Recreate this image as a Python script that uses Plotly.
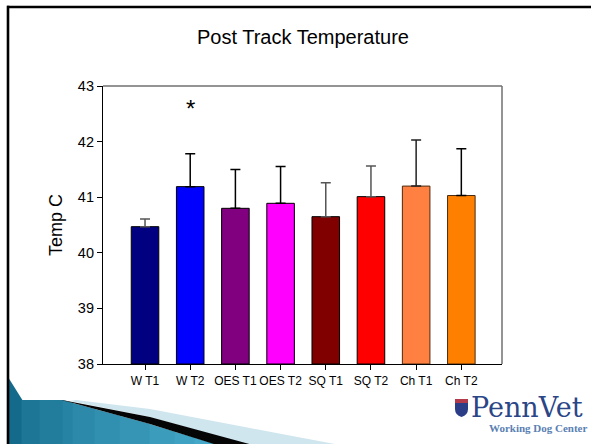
import plotly.graph_objects as go

# ---------------- data ----------------
categories = ["W T1", "W T2", "OES T1", "OES T2", "SQ T1", "SQ T2", "Ch T1", "Ch T2"]
means = [40.47, 41.19, 40.80, 40.89, 40.65, 41.01, 41.20, 41.03]
errors = [0.14, 0.59, 0.70, 0.66, 0.61, 0.55, 0.83, 0.84]
bar_colors = ["#000080", "#0000FF", "#800080", "#FF00FF", "#800000", "#FF0000", "#FF8040", "#FF8000"]
edge_colors = ["#000000", "#000000", "#000000", "#000000", "#000000", "#000000", "#4a2a10", "#4a2a10"]
err_colors = ["#555555", "#000000", "#000000", "#000000", "#555555", "#555555", "#222222", "#000000"]
y_ticks = [38, 39, 40, 41, 42, 43]
title_text = "Post Track Temperature"
y_title = "Temp C"
sig_label = "*"
sig_category = "W T2"
sig_y = 42.6

# ---------------- geometry ----------------
FW, FH = 591, 444
L, R, T, B = 103, 89, 86, 80
PW, PH = FW - L - R, FH - T - B


def px(x):
    return (x - L) / PW


def py(y):
    return (T + PH - y) / PH


FONT = "Liberation Sans, Arial, sans-serif"

fig = go.Figure()
for cat, m, e, c, ec, erc in zip(categories, means, errors, bar_colors, edge_colors, err_colors):
    fig.add_trace(go.Bar(
        x=[cat], y=[m - 38], base=38, width=0.61,
        marker=dict(color=c, line=dict(color=ec, width=1)),
        error_y=dict(type="data", array=[e], arrayminus=[0], symmetric=False,
                     color=erc, thickness=1.5, width=5),
        showlegend=False, hoverinfo="x+y",
    ))

shapes = []

# ---- slide decoration: teal swoosh bottom-left ----
def top_edge(x):
    # upper boundary of visible teal area (pixels)
    if x < 22:
        return 378 + (x - 9) * (2 / 13)
    pts = [(22, 400), (63, 400), (73, 403), (150, 424), (215, 444)]
    for (x0, y0), (x1, y1) in zip(pts[:-1], pts[1:]):
        if x0 <= x <= x1:
            return y0 + (y1 - y0) * (x - x0) / (x1 - x0)
    return 444


def lerp_col(a, b, t):
    ca = [int(a[i:i + 2], 16) for i in (1, 3, 5)]
    cb = [int(b[i:i + 2], 16) for i in (1, 3, 5)]
    return "#%02x%02x%02x" % tuple(int(round(ca[k] + (cb[k] - ca[k]) * t)) for k in range(3))


xs = [9, 22, 22.01, 40, 63, 73, 95, 120, 150, 175, 195, 215]
n = len(xs) - 1
for i in range(n):
    x0, x1 = xs[i], xs[i + 1]
    y0, y1 = top_edge(x0), top_edge(x1)
    col = lerp_col("#136a8a", "#45a8c8", i / (n - 1))
    path = "M {} {} L {} {} L {} {} L {} {} Z".format(
        px(x0 - 0.4), py(y0), px(x1 + 0.4), py(y1), px(x1 + 0.4), py(445), px(x0 - 0.4), py(445))
    shapes.append(dict(type="path", xref="paper", yref="paper", path=path,
                       fillcolor=col, line=dict(width=0), layer="below"))

# light band above the black stripe
band = [(76, 400), (150, 409), (250, 428), (340, 445), (250, 445), (150, 417), (70, 401)]
shapes.append(dict(type="path", xref="paper", yref="paper",
                   path="M " + " L ".join("{} {}".format(px(a), py(b)) for a, b in band) + " Z",
                   fillcolor="#cfe6ef", line=dict(width=0), layer="below"))
# black stripe
stripe = [(62, 400), (150, 417), (253, 445), (217, 445), (150, 424), (73, 403), (63, 400.5)]
shapes.append(dict(type="path", xref="paper", yref="paper",
                   path="M " + " L ".join("{} {}".format(px(a), py(b)) for a, b in stripe) + " Z",
                   fillcolor="#050505", line=dict(width=0), layer="below"))

# slide border (top and left)
shapes.append(dict(type="line", xref="paper", yref="paper", x0=px(7), x1=px(FW + 2),
                   y0=py(7), y1=py(7), line=dict(color="#000000", width=2.6), layer="below"))
shapes.append(dict(type="line", xref="paper", yref="paper", x0=px(8), x1=px(8),
                   y0=py(5.8), y1=py(FH + 2), line=dict(color="#000000", width=2.6), layer="below"))

# gray top and right plot frame
shapes.append(dict(type="line", xref="paper", yref="paper", x0=0, x1=1, y0=1, y1=1,
                   line=dict(color="#707070", width=1.5)))
shapes.append(dict(type="line", xref="paper", yref="paper", x0=1, x1=1, y0=0, y1=1,
                   line=dict(color="#707070", width=1.5)))

# PennVet shield icon
shapes.append(dict(type="path", xref="paper", yref="paper",
                   path="M {} {} L {} {} L {} {} Q {} {} {} {} Q {} {} {} {} Z".format(
                       px(455), py(399), px(468), py(399), px(468), py(409),
                       px(468), py(415), px(461.5), py(417), px(455), py(415), px(455), py(409)),
                   fillcolor="#2a3d86", line=dict(width=0)))
shapes.append(dict(type="rect", xref="paper", yref="paper",
                   x0=px(455), x1=px(468), y0=py(403), y1=py(399),
                   fillcolor="#b23a4a", line=dict(width=0)))

annotations = [
    dict(x=sig_category, y=sig_y, xref="x", yref="y", text=sig_label, showarrow=False,
         font=dict(family=FONT, size=24, color="#000000"), xanchor="center", yanchor="middle"),
    dict(x=px(56), y=0.5, xref="paper", yref="paper", text=y_title, showarrow=False,
         textangle=-90, font=dict(family=FONT, size=18, color="#000000"),
         xanchor="center", yanchor="middle"),
    dict(x=px(527), y=py(407), xref="paper", yref="paper", text="PennVet", showarrow=False,
         font=dict(family="DejaVu Serif, Liberation Serif, serif", size=27, color="#2b4687"),
         xanchor="center", yanchor="middle"),
    dict(x=px(538), y=py(428), xref="paper", yref="paper", text="<b>Working Dog Center</b>",
         showarrow=False,
         font=dict(family="Liberation Serif, serif", size=11, color="#5b7fb3"),
         xanchor="center", yanchor="middle"),
]

fig.update_layout(
    width=FW, height=FH,
    margin=dict(l=L, r=R, t=T, b=B, pad=0),
    paper_bgcolor="#ffffff", plot_bgcolor="#ffffff",
    barmode="overlay",
    title=dict(text=title_text, x=303 / FW, y=1 - 37 / FH, xref="container", yref="container",
               xanchor="center", yanchor="middle",
               font=dict(family=FONT, size=20, color="#000000")),
    xaxis=dict(type="category", categoryorder="array", categoryarray=categories,
               range=[-0.93, 7.9], showline=True, linecolor="#000000", linewidth=1.2,
               ticks="outside", ticklen=5, tickcolor="#000000", tickwidth=1,
               showgrid=False, zeroline=False,
               tickfont=dict(family=FONT, size=12, color="#000000")),
    yaxis=dict(range=[38, 43], tickvals=y_ticks, showline=True, linecolor="#000000",
               linewidth=1.2, ticks="outside", ticklen=5, tickcolor="#000000", tickwidth=1,
               showgrid=False, zeroline=False,
               tickfont=dict(family=FONT, size=14.5, color="#000000")),
    shapes=shapes,
    annotations=annotations,
)

fig.write_html("out.html", config={"displayModeBar": False},
               post_script="document.body.style.margin='0';document.body.style.overflow='hidden';")
